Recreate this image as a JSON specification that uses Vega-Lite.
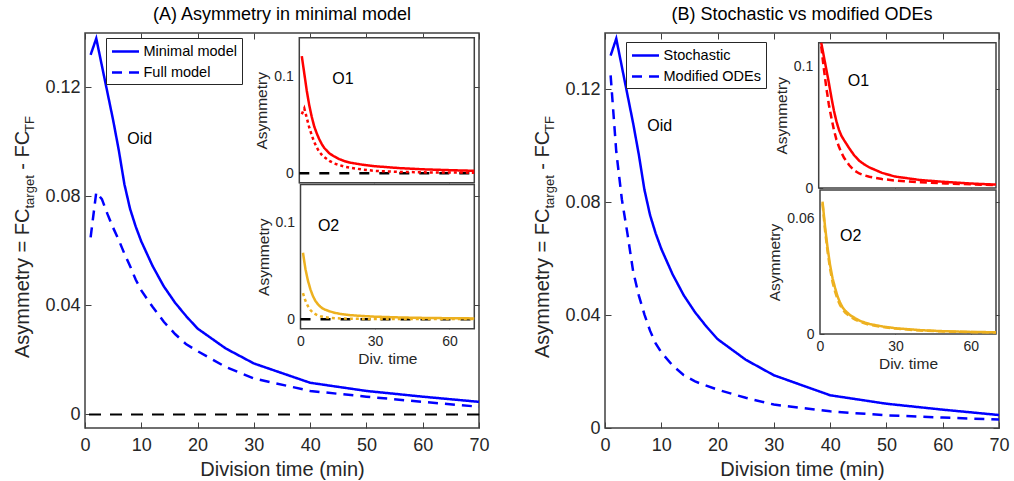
{
  "$schema": "https://vega.github.io/schema/vega-lite/v6.json",
  "background": "#ffffff",
  "padding": {"left": 11, "top": 4, "right": 0, "bottom": 0},
  "spacing": 41,
  "datasets": {
    "one": [{}],
    "leftMain": [
      {"t":1,"v":0.132,"series":"Minimal model"},{"t":2,"v":0.138,"series":"Minimal model"},{"t":3,"v":0.128,"series":"Minimal model"},{"t":4,"v":0.118,"series":"Minimal model"},{"t":5,"v":0.108,"series":"Minimal model"},{"t":6,"v":0.097,"series":"Minimal model"},{"t":7,"v":0.0845,"series":"Minimal model"},{"t":8,"v":0.0755,"series":"Minimal model"},{"t":9,"v":0.069,"series":"Minimal model"},{"t":10,"v":0.0635,"series":"Minimal model"},{"t":12,"v":0.0545,"series":"Minimal model"},{"t":14,"v":0.047,"series":"Minimal model"},{"t":16,"v":0.041,"series":"Minimal model"},{"t":18,"v":0.036,"series":"Minimal model"},{"t":20,"v":0.0315,"series":"Minimal model"},{"t":25,"v":0.0242,"series":"Minimal model"},{"t":30,"v":0.0187,"series":"Minimal model"},{"t":40,"v":0.0116,"series":"Minimal model"},{"t":50,"v":0.0086,"series":"Minimal model"},{"t":60,"v":0.0065,"series":"Minimal model"},{"t":70,"v":0.0046,"series":"Minimal model"},
      {"t":1,"v":0.065,"series":"Full model"},{"t":2,"v":0.0815,"series":"Full model"},{"t":3,"v":0.079,"series":"Full model"},{"t":4,"v":0.0735,"series":"Full model"},{"t":5,"v":0.0685,"series":"Full model"},{"t":6,"v":0.064,"series":"Full model"},{"t":7,"v":0.059,"series":"Full model"},{"t":8,"v":0.0545,"series":"Full model"},{"t":9,"v":0.0495,"series":"Full model"},{"t":10,"v":0.0455,"series":"Full model"},{"t":12,"v":0.0395,"series":"Full model"},{"t":14,"v":0.034,"series":"Full model"},{"t":16,"v":0.0295,"series":"Full model"},{"t":18,"v":0.0257,"series":"Full model"},{"t":20,"v":0.0232,"series":"Full model"},{"t":25,"v":0.0174,"series":"Full model"},{"t":30,"v":0.0132,"series":"Full model"},{"t":40,"v":0.0086,"series":"Full model"},{"t":50,"v":0.0065,"series":"Full model"},{"t":60,"v":0.0046,"series":"Full model"},{"t":70,"v":0.0028,"series":"Full model"}
    ],
    "rightMain": [
      {"t":1,"v":0.132,"series":"Stochastic"},{"t":2,"v":0.138,"series":"Stochastic"},{"t":3,"v":0.128,"series":"Stochastic"},{"t":4,"v":0.118,"series":"Stochastic"},{"t":5,"v":0.108,"series":"Stochastic"},{"t":6,"v":0.097,"series":"Stochastic"},{"t":7,"v":0.0845,"series":"Stochastic"},{"t":8,"v":0.0755,"series":"Stochastic"},{"t":9,"v":0.069,"series":"Stochastic"},{"t":10,"v":0.0635,"series":"Stochastic"},{"t":12,"v":0.0545,"series":"Stochastic"},{"t":14,"v":0.047,"series":"Stochastic"},{"t":16,"v":0.041,"series":"Stochastic"},{"t":18,"v":0.036,"series":"Stochastic"},{"t":20,"v":0.0315,"series":"Stochastic"},{"t":25,"v":0.0242,"series":"Stochastic"},{"t":30,"v":0.0187,"series":"Stochastic"},{"t":40,"v":0.0116,"series":"Stochastic"},{"t":50,"v":0.0086,"series":"Stochastic"},{"t":60,"v":0.0065,"series":"Stochastic"},{"t":70,"v":0.0046,"series":"Stochastic"},
      {"t":1,"v":0.125,"series":"Modified ODEs"},{"t":2,"v":0.098,"series":"Modified ODEs"},{"t":3,"v":0.081,"series":"Modified ODEs"},{"t":4,"v":0.0687,"series":"Modified ODEs"},{"t":5,"v":0.0555,"series":"Modified ODEs"},{"t":6,"v":0.047,"series":"Modified ODEs"},{"t":7,"v":0.0403,"series":"Modified ODEs"},{"t":8,"v":0.0345,"series":"Modified ODEs"},{"t":9,"v":0.03,"series":"Modified ODEs"},{"t":10,"v":0.0268,"series":"Modified ODEs"},{"t":12,"v":0.0222,"series":"Modified ODEs"},{"t":14,"v":0.0187,"series":"Modified ODEs"},{"t":16,"v":0.0165,"series":"Modified ODEs"},{"t":18,"v":0.015,"series":"Modified ODEs"},{"t":20,"v":0.0136,"series":"Modified ODEs"},{"t":25,"v":0.0107,"series":"Modified ODEs"},{"t":30,"v":0.0083,"series":"Modified ODEs"},{"t":40,"v":0.0059,"series":"Modified ODEs"},{"t":50,"v":0.0045,"series":"Modified ODEs"},{"t":60,"v":0.0037,"series":"Modified ODEs"},{"t":70,"v":0.003,"series":"Modified ODEs"}
    ],
    "leftO1": [
      {"t":1,"v":0.121,"series":"Minimal model"},{"t":2,"v":0.103,"series":"Minimal model"},{"t":3,"v":0.085,"series":"Minimal model"},{"t":4,"v":0.07,"series":"Minimal model"},{"t":5,"v":0.058,"series":"Minimal model"},{"t":6,"v":0.048,"series":"Minimal model"},{"t":7,"v":0.041,"series":"Minimal model"},{"t":8,"v":0.035,"series":"Minimal model"},{"t":9,"v":0.03,"series":"Minimal model"},{"t":10,"v":0.026,"series":"Minimal model"},{"t":12,"v":0.0205,"series":"Minimal model"},{"t":14,"v":0.0172,"series":"Minimal model"},{"t":16,"v":0.0145,"series":"Minimal model"},{"t":18,"v":0.0125,"series":"Minimal model"},{"t":20,"v":0.011,"series":"Minimal model"},{"t":25,"v":0.0088,"series":"Minimal model"},{"t":30,"v":0.0072,"series":"Minimal model"},{"t":40,"v":0.0052,"series":"Minimal model"},{"t":50,"v":0.0039,"series":"Minimal model"},{"t":60,"v":0.0031,"series":"Minimal model"},{"t":70,"v":0.0024,"series":"Minimal model"},
      {"t":1,"v":0.061,"series":"Full model"},{"t":2,"v":0.067,"series":"Full model"},{"t":3,"v":0.057,"series":"Full model"},{"t":4,"v":0.047,"series":"Full model"},{"t":5,"v":0.039,"series":"Full model"},{"t":6,"v":0.032,"series":"Full model"},{"t":7,"v":0.0265,"series":"Full model"},{"t":8,"v":0.022,"series":"Full model"},{"t":9,"v":0.019,"series":"Full model"},{"t":10,"v":0.0165,"series":"Full model"},{"t":12,"v":0.0127,"series":"Full model"},{"t":14,"v":0.01,"series":"Full model"},{"t":16,"v":0.0083,"series":"Full model"},{"t":18,"v":0.0068,"series":"Full model"},{"t":20,"v":0.0058,"series":"Full model"},{"t":25,"v":0.0038,"series":"Full model"},{"t":30,"v":0.0024,"series":"Full model"},{"t":40,"v":0.0013,"series":"Full model"},{"t":50,"v":0.0008,"series":"Full model"},{"t":60,"v":0.0006,"series":"Full model"},{"t":70,"v":0.0005,"series":"Full model"}
    ],
    "leftO2": [
      {"t":1,"v":0.069,"series":"Minimal model"},{"t":2,"v":0.052,"series":"Minimal model"},{"t":3,"v":0.04,"series":"Minimal model"},{"t":4,"v":0.031,"series":"Minimal model"},{"t":5,"v":0.024,"series":"Minimal model"},{"t":6,"v":0.019,"series":"Minimal model"},{"t":7,"v":0.0155,"series":"Minimal model"},{"t":8,"v":0.013,"series":"Minimal model"},{"t":9,"v":0.011,"series":"Minimal model"},{"t":10,"v":0.0098,"series":"Minimal model"},{"t":12,"v":0.0079,"series":"Minimal model"},{"t":14,"v":0.0065,"series":"Minimal model"},{"t":16,"v":0.0055,"series":"Minimal model"},{"t":18,"v":0.0048,"series":"Minimal model"},{"t":20,"v":0.0042,"series":"Minimal model"},{"t":25,"v":0.0033,"series":"Minimal model"},{"t":30,"v":0.0026,"series":"Minimal model"},{"t":40,"v":0.0018,"series":"Minimal model"},{"t":50,"v":0.0013,"series":"Minimal model"},{"t":60,"v":0.001,"series":"Minimal model"},{"t":70,"v":0.0008,"series":"Minimal model"},
      {"t":1,"v":0.027,"series":"Full model"},{"t":2,"v":0.019,"series":"Full model"},{"t":3,"v":0.0135,"series":"Full model"},{"t":4,"v":0.0095,"series":"Full model"},{"t":5,"v":0.007,"series":"Full model"},{"t":6,"v":0.0052,"series":"Full model"},{"t":7,"v":0.004,"series":"Full model"},{"t":8,"v":0.0031,"series":"Full model"},{"t":9,"v":0.0025,"series":"Full model"},{"t":10,"v":0.002,"series":"Full model"},{"t":12,"v":0.0014,"series":"Full model"},{"t":14,"v":0.001,"series":"Full model"},{"t":16,"v":0.0008,"series":"Full model"},{"t":18,"v":0.0006,"series":"Full model"},{"t":20,"v":0.0005,"series":"Full model"},{"t":25,"v":0.0003,"series":"Full model"},{"t":30,"v":0.0002,"series":"Full model"},{"t":40,"v":0.0001,"series":"Full model"},{"t":50,"v":0.0001,"series":"Full model"},{"t":60,"v":0.0001,"series":"Full model"},{"t":70,"v":0.0001,"series":"Full model"}
    ],
    "rightO1": [
      {"t":1,"v":0.12,"series":"Stochastic"},{"t":2,"v":0.109,"series":"Stochastic"},{"t":3,"v":0.098,"series":"Stochastic"},{"t":4,"v":0.087,"series":"Stochastic"},{"t":5,"v":0.075,"series":"Stochastic"},{"t":6,"v":0.064,"series":"Stochastic"},{"t":7,"v":0.055,"series":"Stochastic"},{"t":8,"v":0.048,"series":"Stochastic"},{"t":9,"v":0.043,"series":"Stochastic"},{"t":10,"v":0.0395,"series":"Stochastic"},{"t":12,"v":0.033,"series":"Stochastic"},{"t":14,"v":0.027,"series":"Stochastic"},{"t":16,"v":0.0225,"series":"Stochastic"},{"t":18,"v":0.0195,"series":"Stochastic"},{"t":20,"v":0.017,"series":"Stochastic"},{"t":25,"v":0.0125,"series":"Stochastic"},{"t":30,"v":0.0095,"series":"Stochastic"},{"t":40,"v":0.0066,"series":"Stochastic"},{"t":50,"v":0.005,"series":"Stochastic"},{"t":60,"v":0.0037,"series":"Stochastic"},{"t":70,"v":0.0028,"series":"Stochastic"},
      {"t":1,"v":0.117,"series":"Modified ODEs"},{"t":2,"v":0.099,"series":"Modified ODEs"},{"t":3,"v":0.083,"series":"Modified ODEs"},{"t":4,"v":0.069,"series":"Modified ODEs"},{"t":5,"v":0.058,"series":"Modified ODEs"},{"t":6,"v":0.048,"series":"Modified ODEs"},{"t":7,"v":0.04,"series":"Modified ODEs"},{"t":8,"v":0.034,"series":"Modified ODEs"},{"t":9,"v":0.029,"series":"Modified ODEs"},{"t":10,"v":0.025,"series":"Modified ODEs"},{"t":12,"v":0.019,"series":"Modified ODEs"},{"t":14,"v":0.0145,"series":"Modified ODEs"},{"t":16,"v":0.012,"series":"Modified ODEs"},{"t":18,"v":0.0105,"series":"Modified ODEs"},{"t":20,"v":0.0093,"series":"Modified ODEs"},{"t":25,"v":0.0074,"series":"Modified ODEs"},{"t":30,"v":0.0062,"series":"Modified ODEs"},{"t":40,"v":0.0048,"series":"Modified ODEs"},{"t":50,"v":0.0038,"series":"Modified ODEs"},{"t":60,"v":0.003,"series":"Modified ODEs"},{"t":70,"v":0.0024,"series":"Modified ODEs"}
    ],
    "rightO2": [
      {"t":1,"v":0.069,"series":"Stochastic"},{"t":2,"v":0.056,"series":"Stochastic"},{"t":3,"v":0.045,"series":"Stochastic"},{"t":4,"v":0.036,"series":"Stochastic"},{"t":5,"v":0.029,"series":"Stochastic"},{"t":6,"v":0.024,"series":"Stochastic"},{"t":7,"v":0.0195,"series":"Stochastic"},{"t":8,"v":0.0163,"series":"Stochastic"},{"t":9,"v":0.0138,"series":"Stochastic"},{"t":10,"v":0.0122,"series":"Stochastic"},{"t":12,"v":0.0098,"series":"Stochastic"},{"t":14,"v":0.0082,"series":"Stochastic"},{"t":16,"v":0.0068,"series":"Stochastic"},{"t":18,"v":0.0059,"series":"Stochastic"},{"t":20,"v":0.0051,"series":"Stochastic"},{"t":25,"v":0.0039,"series":"Stochastic"},{"t":30,"v":0.003,"series":"Stochastic"},{"t":40,"v":0.002,"series":"Stochastic"},{"t":50,"v":0.0014,"series":"Stochastic"},{"t":60,"v":0.0011,"series":"Stochastic"},{"t":70,"v":0.0009,"series":"Stochastic"},
      {"t":1,"v":0.068,"series":"Modified ODEs"},{"t":2,"v":0.054,"series":"Modified ODEs"},{"t":3,"v":0.043,"series":"Modified ODEs"},{"t":4,"v":0.034,"series":"Modified ODEs"},{"t":5,"v":0.027,"series":"Modified ODEs"},{"t":6,"v":0.022,"series":"Modified ODEs"},{"t":7,"v":0.018,"series":"Modified ODEs"},{"t":8,"v":0.015,"series":"Modified ODEs"},{"t":9,"v":0.0128,"series":"Modified ODEs"},{"t":10,"v":0.0112,"series":"Modified ODEs"},{"t":12,"v":0.009,"series":"Modified ODEs"},{"t":14,"v":0.0075,"series":"Modified ODEs"},{"t":16,"v":0.0063,"series":"Modified ODEs"},{"t":18,"v":0.0054,"series":"Modified ODEs"},{"t":20,"v":0.0047,"series":"Modified ODEs"},{"t":25,"v":0.0036,"series":"Modified ODEs"},{"t":30,"v":0.0028,"series":"Modified ODEs"},{"t":40,"v":0.0018,"series":"Modified ODEs"},{"t":50,"v":0.0013,"series":"Modified ODEs"},{"t":60,"v":0.001,"series":"Modified ODEs"},{"t":70,"v":0.0008,"series":"Modified ODEs"}
    ]
  },
  "hconcat": [
    {
      "width": 394, "height": 395,
      "title": {"text": "(A) Asymmetry in minimal model"},
      "layer": [
        {"data": {"name": "one"},
         "mark": {"type": "rule", "color": "#000000", "strokeWidth": 2, "strokeDash": [12, 9]},
         "encoding": {"y": {"datum": 0, "type": "quantitative", "scale": {"domain": [-0.005, 0.14], "nice": false, "zero": false}, "axis": null}}},
        {"data": {"name": "leftMain"},
         "mark": {"type": "line", "color": "#0000ff", "strokeWidth": 2.5},
         "encoding": {
           "x": {"field": "t", "type": "quantitative", "scale": {"domain": [0, 70], "nice": false, "zero": false},
                 "axis": {"orient": "bottom", "values": [0,10,20,30,40,50,60,70], "title": "Division time (min)", "labelFontSize": 18, "titleFontSize": 20, "tickSize": -6, "labelPadding": 14, "titlePadding": 5, "domain": false}},
           "y": {"field": "v", "type": "quantitative", "scale": {"domain": [-0.005, 0.14], "nice": false, "zero": false},
                 "axis": {"orient": "left", "values": [0, 0.04, 0.08, 0.12], "labelExpr": "datum.value == 0 ? '0' : format(datum.value, '.2f')", "labelFontSize": 18, "tickSize": -6, "labelPadding": 11, "domain": false,
                          "title": "Asymmetry = FC\u00a0\u00a0\u00a0\u00a0\u00a0\u00a0\u00a0- FC", "titleFontSize": 20, "titleAngle": 270, "titleAlign": "left", "titleBaseline": "alphabetic", "titleX": -57, "titleY": 324.5}},
           "strokeDash": {"field": "series", "type": "nominal", "scale": {"domain": ["Minimal model", "Full model"], "range": [[1, 0], [10, 7]]},
                          "legend": {"title": null, "orient": "none", "legendX": 21, "legendY": 5, "strokeColor": "#262626", "fillColor": "#ffffff", "padding": 4.5, "symbolType": "M-1,0L2.6,0", "symbolSize": 225, "symbolStrokeWidth": 2.5, "symbolStrokeColor": "#0000ff", "symbolFillColor": "transparent", "labelFontSize": 14.5, "labelColor": "#000000", "rowPadding": 5, "labelOffset": 15}}
         }},
        {"data": {"name": "one"},
         "mark": {"type": "text", "fontSize": 16, "align": "left", "baseline": "middle", "color": "#000000"},
         "encoding": {"x": {"datum": 7.5, "type": "quantitative", "scale": {"domain": [0, 70], "nice": false, "zero": false}, "axis": null},
                      "y": {"datum": 0.101, "type": "quantitative", "scale": {"domain": [-0.005, 0.14], "nice": false, "zero": false}, "axis": null},
                      "text": {"value": "Oid"}}},

        {"data": {"name": "one"},
         "mark": {"type": "rect", "fill": "#ffffff", "stroke": "#404040", "strokeWidth": 1.5},
         "encoding": {
           "x": {"datum": 0, "type": "quantitative", "scale": {"domain": [0, 70], "range": [214.3, 389.3], "nice": false, "zero": false}, "axis": null},
           "x2": {"datum": 70},
           "y": {"datum": -0.01, "type": "quantitative", "scale": {"domain": [-0.01, 0.14], "range": [149.8, 4.8], "nice": false, "zero": false}, "axis": null},
           "y2": {"datum": 0.14}}},
        {"data": {"name": "one"},
         "mark": {"type": "rule", "color": "#000000", "strokeWidth": 2.5, "strokeDash": [10, 10]},
         "encoding": {
           "x": {"datum": 0, "type": "quantitative", "scale": {"domain": [0, 70], "range": [214.3, 389.3], "nice": false, "zero": false}, "axis": null},
           "x2": {"datum": 70},
           "y": {"datum": 0, "type": "quantitative", "scale": {"domain": [-0.01, 0.14], "range": [149.8, 4.8], "nice": false, "zero": false}, "axis": null}}},
        {"data": {"name": "leftO1"},
         "mark": {"type": "line", "color": "#ff0000", "strokeWidth": 2.5},
         "encoding": {
           "x": {"field": "t", "type": "quantitative", "scale": {"domain": [0, 70], "range": [214.3, 389.3], "nice": false, "zero": false},
                 "axis": {"orient": "bottom", "offset": -245.2, "values": [0, 30, 60], "labels": false, "tickSize": -4, "domain": false, "title": null}},
           "y": {"field": "v", "type": "quantitative", "scale": {"domain": [-0.01, 0.14], "range": [149.8, 4.8], "nice": false, "zero": false},
                 "axis": {"orient": "left", "offset": -214.3, "values": [0, 0.1], "labelExpr": "datum.value == 0 ? '0' : format(datum.value, '.1f')", "labelFontSize": 14, "tickSize": -4, "labelPadding": 10, "domain": false, "title": "Asymmetry", "titleFontSize": 15.5, "titlePadding": 4}},
           "strokeDash": {"field": "series", "type": "nominal", "scale": {"domain": ["Minimal model", "Full model"], "range": [[1, 0], [3, 3]]}, "legend": null}
         }},
        {"data": {"name": "one"},
         "mark": {"type": "text", "fontSize": 16, "align": "left", "baseline": "middle", "color": "#000000"},
         "encoding": {"x": {"datum": 13.2, "type": "quantitative", "scale": {"domain": [0, 70], "range": [214.3, 389.3], "nice": false, "zero": false}, "axis": null},
                      "y": {"datum": 0.097, "type": "quantitative", "scale": {"domain": [-0.01, 0.14], "range": [149.8, 4.8], "nice": false, "zero": false}, "axis": null},
                      "text": {"value": "O1"}}},

        {"data": {"name": "one"},
         "mark": {"type": "rect", "fill": "#ffffff", "stroke": "#404040", "strokeWidth": 1.5},
         "encoding": {
           "x": {"datum": 0, "type": "quantitative", "scale": {"domain": [0, 70], "range": [215.5, 389.3], "nice": false, "zero": false}, "axis": null},
           "x2": {"datum": 70},
           "y": {"datum": -0.01, "type": "quantitative", "scale": {"domain": [-0.01, 0.14], "range": [295.8, 151.5], "nice": false, "zero": false}, "axis": null},
           "y2": {"datum": 0.14}}},
        {"data": {"name": "one"},
         "mark": {"type": "rule", "color": "#000000", "strokeWidth": 2.5, "strokeDash": [10, 10]},
         "encoding": {
           "x": {"datum": 0, "type": "quantitative", "scale": {"domain": [0, 70], "range": [215.5, 389.3], "nice": false, "zero": false}, "axis": null},
           "x2": {"datum": 70},
           "y": {"datum": 0, "type": "quantitative", "scale": {"domain": [-0.01, 0.14], "range": [295.8, 151.5], "nice": false, "zero": false}, "axis": null}}},
        {"data": {"name": "leftO2"},
         "mark": {"type": "line", "color": "#edb120", "strokeWidth": 2.5},
         "encoding": {
           "x": {"field": "t", "type": "quantitative", "scale": {"domain": [0, 70], "range": [215.5, 389.3], "nice": false, "zero": false},
                 "axis": {"orient": "bottom", "offset": -99.2, "values": [0, 30, 60], "labelFontSize": 14, "tickSize": -4, "labelPadding": 9.5, "domain": false, "title": "Div. time", "titleFontSize": 15.5, "titlePadding": 3}},
           "y": {"field": "v", "type": "quantitative", "scale": {"domain": [-0.01, 0.14], "range": [295.8, 151.5], "nice": false, "zero": false},
                 "axis": {"orient": "left", "offset": -215.5, "values": [0, 0.1], "labelExpr": "datum.value == 0 ? '0' : format(datum.value, '.1f')", "labelFontSize": 14, "tickSize": -4, "labelPadding": 10, "domain": false, "title": "Asymmetry", "titleFontSize": 15.5, "titlePadding": 4}},
           "strokeDash": {"field": "series", "type": "nominal", "scale": {"domain": ["Minimal model", "Full model"], "range": [[1, 0], [3, 3]]}, "legend": null}
         }},
        {"data": {"name": "one"},
         "mark": {"type": "text", "fontSize": 16, "align": "left", "baseline": "middle", "color": "#000000"},
         "encoding": {"x": {"datum": 7, "type": "quantitative", "scale": {"domain": [0, 70], "range": [215.5, 389.3], "nice": false, "zero": false}, "axis": null},
                      "y": {"datum": 0.097, "type": "quantitative", "scale": {"domain": [-0.01, 0.14], "range": [295.8, 151.5], "nice": false, "zero": false}, "axis": null},
                      "text": {"value": "O2"}}},

        {"data": {"name": "one"},
         "mark": {"type": "point", "opacity": 0},
         "encoding": {
           "x": {"datum": 0, "type": "quantitative", "scale": {"domain": [0, 70], "nice": false, "zero": false},
                 "axis": {"orient": "top", "values": [0,10,20,30,40,50,60,70], "labels": false, "tickSize": -6, "domain": false, "title": null}},
           "y": {"datum": 0, "type": "quantitative", "scale": {"domain": [-0.005, 0.14], "nice": false, "zero": false},
                 "axis": {"orient": "left", "labels": false, "ticks": false, "domain": false, "title": "target\u00a0\u00a0\u00a0\u00a0\u00a0\u00a0\u00a0\u00a0\u00a0\u00a0\u00a0\u00a0TF", "titleFontSize": 13, "titleAngle": 270, "titleAlign": "left", "titleBaseline": "alphabetic", "titleX": -52, "titleY": 175}}
         }},
        {"data": {"name": "one"},
         "mark": {"type": "point", "opacity": 0},
         "encoding": {
           "y": {"datum": 0, "type": "quantitative", "scale": {"domain": [-0.005, 0.14], "nice": false, "zero": false},
                 "axis": {"orient": "right", "values": [0, 0.04, 0.08, 0.12], "labels": false, "tickSize": -6, "domain": false, "title": null}}
         }}
      ],
      "resolve": {"scale": {"x": "independent", "y": "independent", "strokeDash": "independent"}, "axis": {"x": "independent", "y": "independent"}, "legend": {"strokeDash": "independent"}}
    },
    {
      "width": 394, "height": 395,
      "title": {"text": "(B) Stochastic vs modified ODEs"},
      "layer": [
        {"data": {"name": "rightMain"},
         "mark": {"type": "line", "color": "#0000ff", "strokeWidth": 2.5},
         "encoding": {
           "x": {"field": "t", "type": "quantitative", "scale": {"domain": [0, 70], "nice": false, "zero": false},
                 "axis": {"orient": "bottom", "values": [0,10,20,30,40,50,60,70], "title": "Division time (min)", "labelFontSize": 18, "titleFontSize": 20, "tickSize": -6, "labelPadding": 14, "titlePadding": 5, "domain": false}},
           "y": {"field": "v", "type": "quantitative", "scale": {"domain": [0, 0.14], "nice": false, "zero": false},
                 "axis": {"orient": "left", "values": [0, 0.04, 0.08, 0.12], "labelExpr": "datum.value == 0 ? '0' : format(datum.value, '.2f')", "labelFontSize": 18, "tickSize": -6, "labelPadding": 11, "domain": false,
                          "title": "Asymmetry = FC\u00a0\u00a0\u00a0\u00a0\u00a0\u00a0\u00a0- FC", "titleFontSize": 20, "titleAngle": 270, "titleAlign": "left", "titleBaseline": "alphabetic", "titleX": -57, "titleY": 324.5}},
           "strokeDash": {"field": "series", "type": "nominal", "scale": {"domain": ["Stochastic", "Modified ODEs"], "range": [[1, 0], [10, 7]]},
                          "legend": {"title": null, "orient": "none", "legendX": 21, "legendY": 9, "strokeColor": "#262626", "fillColor": "#ffffff", "padding": 4.5, "symbolType": "M-1,0L2.6,0", "symbolSize": 225, "symbolStrokeWidth": 2.5, "symbolStrokeColor": "#0000ff", "symbolFillColor": "transparent", "labelFontSize": 14.5, "labelColor": "#000000", "rowPadding": 5, "labelOffset": 15}}
         }},
        {"data": {"name": "one"},
         "mark": {"type": "text", "fontSize": 16, "align": "left", "baseline": "middle", "color": "#000000"},
         "encoding": {"x": {"datum": 7.5, "type": "quantitative", "scale": {"domain": [0, 70], "nice": false, "zero": false}, "axis": null},
                      "y": {"datum": 0.107, "type": "quantitative", "scale": {"domain": [0, 0.14], "nice": false, "zero": false}, "axis": null},
                      "text": {"value": "Oid"}}},

        {"data": {"name": "one"},
         "mark": {"type": "rect", "fill": "#ffffff", "stroke": "#404040", "strokeWidth": 1.5},
         "encoding": {
           "x": {"datum": 0, "type": "quantitative", "scale": {"domain": [0, 70], "range": [213.7, 391], "nice": false, "zero": false}, "axis": null},
           "x2": {"datum": 70},
           "y": {"datum": 0, "type": "quantitative", "scale": {"domain": [0, 0.12], "range": [155, 9.7], "nice": false, "zero": false}, "axis": null},
           "y2": {"datum": 0.12}}},
        {"data": {"name": "rightO1"},
         "mark": {"type": "line", "color": "#ff0000", "strokeWidth": 2.5},
         "encoding": {
           "x": {"field": "t", "type": "quantitative", "scale": {"domain": [0, 70], "range": [213.7, 391], "nice": false, "zero": false},
                 "axis": {"orient": "bottom", "offset": -240, "values": [0, 30, 60], "labels": false, "tickSize": -4, "domain": false, "title": null}},
           "y": {"field": "v", "type": "quantitative", "scale": {"domain": [0, 0.12], "range": [155, 9.7], "nice": false, "zero": false},
                 "axis": {"orient": "left", "offset": -213.7, "values": [0, 0.1], "labelExpr": "datum.value == 0 ? '0' : format(datum.value, '.1f')", "labelFontSize": 14, "tickSize": -4, "labelPadding": 10, "domain": false, "title": "Asymmetry", "titleFontSize": 15.5, "titlePadding": 4}},
           "strokeDash": {"field": "series", "type": "nominal", "scale": {"domain": ["Stochastic", "Modified ODEs"], "range": [[1, 0], [7, 4]]}, "legend": null}
         }},
        {"data": {"name": "one"},
         "mark": {"type": "text", "fontSize": 16, "align": "left", "baseline": "middle", "color": "#000000"},
         "encoding": {"x": {"datum": 11.5, "type": "quantitative", "scale": {"domain": [0, 70], "range": [213.7, 391], "nice": false, "zero": false}, "axis": null},
                      "y": {"datum": 0.088, "type": "quantitative", "scale": {"domain": [0, 0.12], "range": [155, 9.7], "nice": false, "zero": false}, "axis": null},
                      "text": {"value": "O1"}}},

        {"data": {"name": "one"},
         "mark": {"type": "rect", "fill": "#ffffff", "stroke": "#404040", "strokeWidth": 1.5},
         "encoding": {
           "x": {"datum": 0, "type": "quantitative", "scale": {"domain": [0, 70], "range": [215, 391], "nice": false, "zero": false}, "axis": null},
           "x2": {"datum": 70},
           "y": {"datum": 0, "type": "quantitative", "scale": {"domain": [0, 0.075], "range": [301, 157], "nice": false, "zero": false}, "axis": null},
           "y2": {"datum": 0.075}}},
        {"data": {"name": "rightO2"},
         "mark": {"type": "line", "color": "#edb120", "strokeWidth": 2.5},
         "encoding": {
           "x": {"field": "t", "type": "quantitative", "scale": {"domain": [0, 70], "range": [215, 391], "nice": false, "zero": false},
                 "axis": {"orient": "bottom", "offset": -94, "values": [0, 30, 60], "labelFontSize": 14, "tickSize": -4, "labelPadding": 9.5, "domain": false, "title": "Div. time", "titleFontSize": 15.5, "titlePadding": 3}},
           "y": {"field": "v", "type": "quantitative", "scale": {"domain": [0, 0.075], "range": [301, 157], "nice": false, "zero": false},
                 "axis": {"orient": "left", "offset": -215, "values": [0, 0.06], "labelExpr": "datum.value == 0 ? '0' : format(datum.value, '.2f')", "labelFontSize": 14, "tickSize": -4, "labelPadding": 10, "domain": false, "title": "Asymmetry", "titleFontSize": 15.5, "titlePadding": 4}},
           "strokeDash": {"field": "series", "type": "nominal", "scale": {"domain": ["Stochastic", "Modified ODEs"], "range": [[1, 0], [7, 4]]}, "legend": null}
         }},
        {"data": {"name": "one"},
         "mark": {"type": "text", "fontSize": 16, "align": "left", "baseline": "middle", "color": "#000000"},
         "encoding": {"x": {"datum": 8, "type": "quantitative", "scale": {"domain": [0, 70], "range": [215, 391], "nice": false, "zero": false}, "axis": null},
                      "y": {"datum": 0.051, "type": "quantitative", "scale": {"domain": [0, 0.075], "range": [301, 157], "nice": false, "zero": false}, "axis": null},
                      "text": {"value": "O2"}}},

        {"data": {"name": "one"},
         "mark": {"type": "point", "opacity": 0},
         "encoding": {
           "x": {"datum": 0, "type": "quantitative", "scale": {"domain": [0, 70], "nice": false, "zero": false},
                 "axis": {"orient": "top", "values": [0,10,20,30,40,50,60,70], "labels": false, "tickSize": -6, "domain": false, "title": null}},
           "y": {"datum": 0, "type": "quantitative", "scale": {"domain": [0, 0.14], "nice": false, "zero": false},
                 "axis": {"orient": "left", "labels": false, "ticks": false, "domain": false, "title": "target\u00a0\u00a0\u00a0\u00a0\u00a0\u00a0\u00a0\u00a0\u00a0\u00a0\u00a0\u00a0TF", "titleFontSize": 13, "titleAngle": 270, "titleAlign": "left", "titleBaseline": "alphabetic", "titleX": -52, "titleY": 175}}
         }},
        {"data": {"name": "one"},
         "mark": {"type": "point", "opacity": 0},
         "encoding": {
           "y": {"datum": 0, "type": "quantitative", "scale": {"domain": [0, 0.14], "nice": false, "zero": false},
                 "axis": {"orient": "right", "values": [0, 0.04, 0.08, 0.12], "labels": false, "tickSize": -6, "domain": false, "title": null}}
         }}
      ],
      "resolve": {"scale": {"x": "independent", "y": "independent", "strokeDash": "independent"}, "axis": {"x": "independent", "y": "independent"}, "legend": {"strokeDash": "independent"}}
    }
  ],
  "config": {
    "font": "Liberation Sans",
    "view": {"stroke": "#404040", "strokeWidth": 1.5},
    "axis": {"grid": false, "labelColor": "#262626", "titleColor": "#262626", "tickColor": "#404040", "tickWidth": 1, "titleFontWeight": "normal", "labelFont": "Liberation Sans", "titleFont": "Liberation Sans", "labelOverlap": false, "labelFlush": false},
    "title": {"fontSize": 18, "fontWeight": "normal", "color": "#000000", "font": "Liberation Sans", "offset": 9, "baseline": "alphabetic"},
    "legend": {"labelFont": "Liberation Sans"},
    "text": {"font": "Liberation Sans"}
  }
}
